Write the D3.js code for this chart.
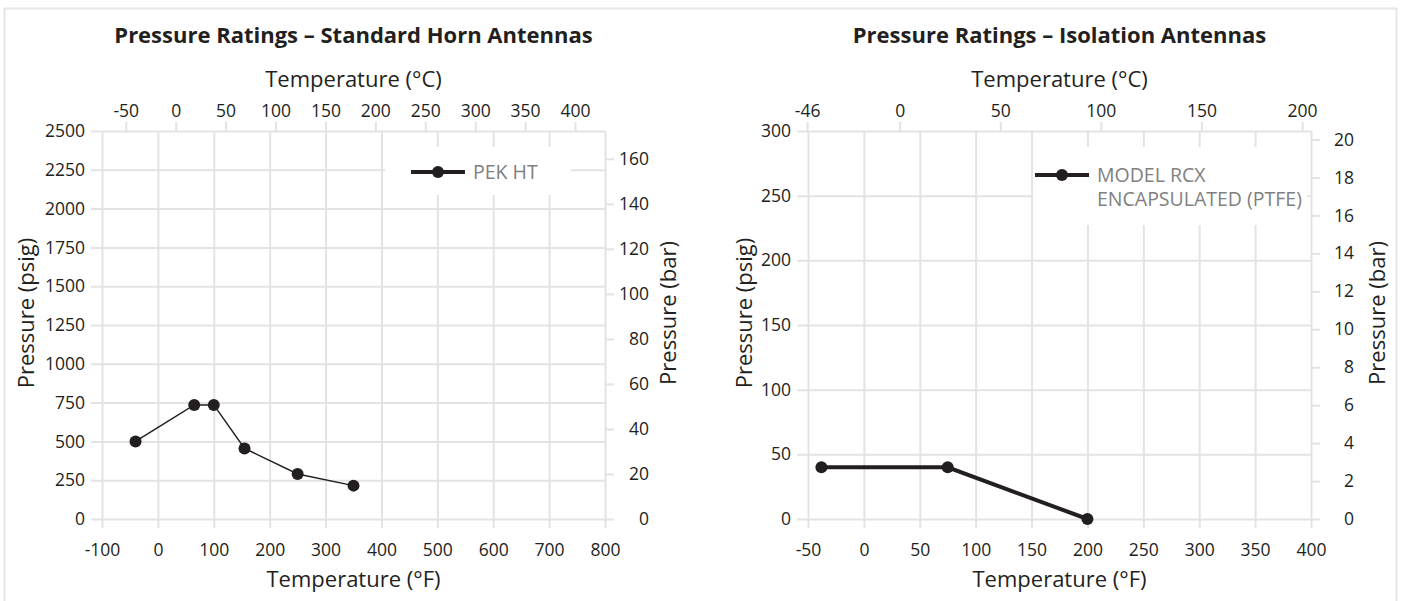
<!DOCTYPE html>
<head>
<meta charset="utf-8">
    <script src="https://d3js.org/d3.v7.min.js"></script>

    <style>
        body { margin: 0; background: #fff; }
        svg text { font-family: "Open Sans", sans-serif; fill: #231f20; }
        .grid line { stroke: #e3e3e3; stroke-width: 2px; }
        .grid path { display: none; }
        .tick text { font-size: 17.5px; }
        .title { font-size: 22px; font-weight: 700; }
        .axis-title { font-size: 22px; }
        .legend text { font-size: 19.5px; fill: #808080; }
    </style>

</head>
<body>

<svg></svg>
<script>
    // ---- data ----
    var hornTempF = [-40, 65, 100, 155, 250, 350];
    var hornPsig  = [500, 735, 735, 455, 290, 215];

    var isoTempF = [-38, 75, 200];
    var isoPsig  = [40, 40, 0];

    var hornFTicks    = [-100, 0, 100, 200, 300, 400, 500, 600, 700, 800];
    var hornCTicks    = [-50, 0, 50, 100, 150, 200, 250, 300, 350, 400];
    var hornPsigTicks = [0, 250, 500, 750, 1000, 1250, 1500, 1750, 2000, 2250, 2500];
    var hornBarTicks  = [0, 20, 40, 60, 80, 100, 120, 140, 160];

    var isoFTicks    = [-50, 0, 50, 100, 150, 200, 250, 300, 350, 400];
    var isoCTicks    = [-46, 0, 50, 100, 150, 200];
    var isoPsigTicks = [0, 50, 100, 150, 200, 250, 300];
    var isoBarTicks  = [0, 2, 4, 6, 8, 10, 12, 14, 16, 18, 20];

    var width = 1406;
    var height = 601;

    var svg = d3.select("svg")
        .attr("width", width)
        .attr("height", height);

    // light frame round the whole figure
    svg.append("rect")
        .attr("x", 4.5).attr("y", 8.5)
        .attr("width", 1392).attr("height", 600)
        .attr("fill", "none")
        .attr("stroke", "#e6e6e6")
        .attr("stroke-width", 2);

    function fToC(f) { return (f - 32) * 5 / 9; }
    var fmt = function(d) { return String(d); };   // plain hyphen for negatives, like the original

    function drawChart(c) {
        var top = 131, bottom = 519;
        var g = svg.append("g");

        var x = d3.scaleLinear().domain(d3.extent(c.fTicks)).range([c.left, c.right]);
        var xc = d3.scaleLinear().domain(c.cDomain).range([c.left, c.right]);
        var y = d3.scaleLinear().domain(d3.extent(c.psigTicks)).range([bottom, top]);
        var yb = d3.scaleLinear().domain([0, c.barMax]).range([bottom, top]);

        // vertical grid + bottom ticks
        g.append("g").attr("class", "grid")
            .attr("transform", "translate(0," + (bottom + 9) + ")")
            .call(d3.axisBottom(x).tickValues(c.fTicks).tickSize(-(bottom + 9 - top)).tickFormat(fmt))
            .selectAll("text").attr("dy", 0).attr("y", 28);

        // horizontal grid + left ticks
        g.append("g").attr("class", "grid")
            .attr("transform", "translate(" + (c.left - 11) + ",0)")
            .call(d3.axisLeft(y).tickValues(c.psigTicks).tickSize(-(c.right - c.left + 11)).tickPadding(6).tickFormat(fmt));

        // top celsius ticks
        g.append("g").attr("class", "grid")
            .attr("transform", "translate(0," + top + ")")
            .call(d3.axisTop(xc).tickValues(c.cTicks).tickSize(9).tickFormat(fmt))
            .selectAll("text").attr("dy", 0).attr("y", -14);

        // right bar ticks, labels right aligned
        var rax = g.append("g").attr("class", "grid")
            .attr("transform", "translate(" + (c.right + 1) + ",0)")
            .call(d3.axisRight(yb).tickValues(c.barTicks).tickSize(8).tickFormat(fmt));
        rax.selectAll("text").attr("text-anchor", "end").attr("x", c.barLabelEnd - c.right - 1);

        // titles
        var mid = (c.left + c.right) / 2;
        g.append("text").attr("class", "title").attr("x", mid).attr("y", 43)
            .attr("text-anchor", "middle").text(c.title);
        g.append("text").attr("class", "axis-title").attr("x", mid).attr("y", 87)
            .attr("text-anchor", "middle").text("Temperature (°C)");
        g.append("text").attr("class", "axis-title").attr("x", mid).attr("y", 587)
            .attr("text-anchor", "middle").text("Temperature (°F)");
        g.append("text").attr("class", "axis-title")
            .attr("transform", "translate(" + c.psigTitleX + ",313) rotate(-90)")
            .attr("text-anchor", "middle").text("Pressure (psig)");
        g.append("text").attr("class", "axis-title")
            .attr("transform", "translate(" + c.barTitleX + ",313) rotate(-90)")
            .attr("text-anchor", "middle").text("Pressure (bar)");

        // legend box covers the grid
        var lg = g.append("g").attr("class", "legend");
        lg.append("rect")
            .attr("x", c.legend.x).attr("y", c.legend.y)
            .attr("width", c.legend.w).attr("height", c.legend.h)
            .attr("fill", "#fff");
        var ly = c.legend.lineY;
        lg.append("line")
            .attr("x1", c.legend.lineX).attr("x2", c.legend.lineX + 54)
            .attr("y1", ly).attr("y2", ly)
            .attr("stroke", "#231f20").attr("stroke-width", 4);
        lg.append("circle").attr("cx", c.legend.lineX + 27).attr("cy", ly).attr("r", 6).attr("fill", "#231f20");
        c.legendText.forEach(function(t, i) {
            lg.append("text").attr("x", c.legend.lineX + 62).attr("y", ly + 7 + i * 23.5).text(t);
        });

        // series
        var pts = c.tempF.map(function(f, i) { return [f, c.psig[i]]; });
        var line = d3.line().x(function(d) { return x(d[0]); }).y(function(d) { return y(d[1]); });
        g.append("path").datum(pts)
            .attr("d", line)
            .attr("fill", "none")
            .attr("stroke", "#231f20")
            .attr("stroke-width", c.lineWidth);
        g.selectAll(".pt").data(pts).enter().append("circle")
            .attr("cx", function(d) { return x(d[0]); })
            .attr("cy", function(d) { return y(d[1]); })
            .attr("r", 6)
            .attr("fill", "#231f20");
    }

    drawChart({
        title: "Pressure Ratings – Standard Horn Antennas",
        left: 102, right: 605,
        fTicks: hornFTicks, cTicks: hornCTicks, cDomain: [-73.8, 430],
        psigTicks: hornPsigTicks, barTicks: hornBarTicks, barMax: 2500 / 14.5038,
        barLabelEnd: 649, psigTitleX: 34, barTitleX: 676,
        tempF: hornTempF, psig: hornPsig, lineWidth: 1.5,
        legend: { x: 385, y: 147, w: 186, h: 48, lineX: 411, lineY: 172 },
        legendText: ["PEK HT"]
    });

    drawChart({
        title: "Pressure Ratings – Isolation Antennas",
        left: 808, right: 1311,
        fTicks: isoFTicks, cTicks: isoCTicks, cDomain: [fToC(-50), fToC(400)],
        psigTicks: isoPsigTicks, barTicks: isoBarTicks, barMax: 20.45,
        barLabelEnd: 1354, psigTitleX: 752, barTitleX: 1385,
        tempF: isoTempF, psig: isoPsig, lineWidth: 4,
        legend: { x: 1033, y: 147, w: 274, h: 78, lineX: 1035, lineY: 175 },
        legendText: ["MODEL RCX", "ENCAPSULATED (PTFE)"]
    });
</script>
</body>
